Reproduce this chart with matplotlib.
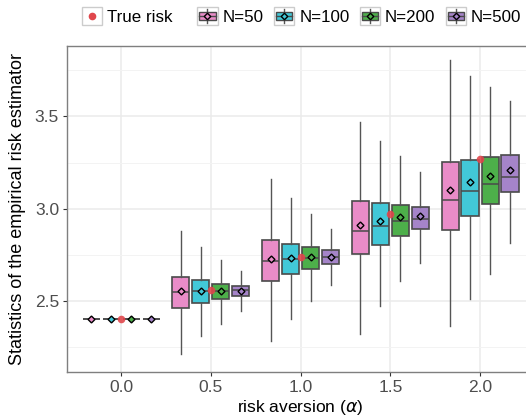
import numpy as np
import matplotlib
matplotlib.use("Agg")
from matplotlib import pyplot as plt
from matplotlib.patches import Rectangle
from matplotlib.lines import Line2D
from matplotlib.legend_handler import HandlerBase

plt.rcParams['font.family'] = ['Liberation Sans', 'DejaVu Sans']

# risk aversion levels and sample sizes
alphas = [0.0, 0.5, 1.0, 1.5, 2.0]
sizes = ['N=50', 'N=100', 'N=200', 'N=500']
true_risk = [2.40, 2.556, 2.740, 2.971, 3.268]

# box statistics per sample size, one entry per alpha:
# (whisker low, q1, median, q3, whisker high, mean)
stats_n50 = [(2.40, 2.40, 2.40, 2.40, 2.40, 2.40),
             (2.212, 2.462, 2.547, 2.629, 2.879, 2.551),
             (2.283, 2.609, 2.716, 2.828, 3.160, 2.725),
             (2.321, 2.752, 2.877, 3.040, 3.471, 2.913),
             (2.366, 2.886, 3.049, 3.254, 3.807, 3.102)]
stats_n100 = [(2.40, 2.40, 2.40, 2.40, 2.40, 2.40),
              (2.307, 2.490, 2.551, 2.611, 2.792, 2.551),
              (2.399, 2.643, 2.725, 2.810, 3.055, 2.732),
              (2.473, 2.805, 2.908, 3.029, 3.368, 2.933),
              (2.508, 2.961, 3.093, 3.265, 3.721, 3.142)]
stats_n200 = [(2.40, 2.40, 2.40, 2.40, 2.40, 2.40),
              (2.376, 2.508, 2.553, 2.593, 2.723, 2.553),
              (2.498, 2.674, 2.732, 2.794, 2.970, 2.738),
              (2.605, 2.850, 2.932, 3.022, 3.283, 2.952),
              (2.647, 3.024, 3.134, 3.278, 3.658, 3.178)]
stats_n500 = [(2.40, 2.40, 2.40, 2.40, 2.40, 2.40),
              (2.444, 2.524, 2.557, 2.580, 2.661, 2.554),
              (2.584, 2.698, 2.738, 2.776, 2.890, 2.738),
              (2.705, 2.888, 2.946, 3.009, 3.196, 2.959),
              (2.814, 3.088, 3.174, 3.289, 3.585, 3.210)]

all_stats = [stats_n50, stats_n100, stats_n200, stats_n500]
colors = ['#E98CC8', '#42C8D8', '#4DAF4A', '#A584C9']
offsets = [-0.167, -0.056, 0.056, 0.167]
box_w = 0.095
edge = '#4A4A4A'

fig = plt.figure(figsize=(5.26, 4.18), dpi=100)
ax = fig.add_axes([0.128, 0.111, 0.887, 0.779])

for stats, col, off in zip(all_stats, colors, offsets):
    bx = []
    for lo, q1, med, q3, hi, mean in stats:
        bx.append(dict(whislo=lo, q1=q1, med=med, q3=q3, whishi=hi, mean=mean, fliers=[]))
    pos = [a + off for a in alphas]
    ax.bxp(bx, positions=pos, widths=box_w, showcaps=False, showmeans=True,
           patch_artist=True, manage_ticks=False,
           boxprops=dict(facecolor=col, edgecolor=edge, linewidth=1.2),
           medianprops=dict(color=edge, linewidth=1.1),
           whiskerprops=dict(color='#555555', linewidth=1.0),
           meanprops=dict(marker='D', markersize=3.5, markerfacecolor=col,
                          markeredgecolor='black', markeredgewidth=1.0),
           zorder=3)

ax.scatter(alphas, true_risk, s=30, color='#E0474C', alpha=0.9, zorder=5, linewidths=0)

ax.set_xlim(-0.3, 2.3)
ax.set_ylim(2.116, 3.882)
ax.set_xticks([0.0, 0.5, 1.0, 1.5, 2.0])
ax.set_xticklabels(['0.0', '0.5', '1.0', '1.5', '2.0'])
ax.set_yticks([2.5, 3.0, 3.5])
ax.set_yticks([2.25, 2.75, 3.25, 3.75], minor=True)
ax.grid(True, which='major', color='#EBEBEB', linewidth=1.1, zorder=0)
ax.grid(True, which='minor', axis='y', color='#F3F3F3', linewidth=0.7, zorder=0)
ax.set_axisbelow(True)
ax.tick_params(axis='both', which='major', labelsize=12.5, labelcolor='#4D4D4D',
               color='#333333', length=3, width=0.8, pad=3)
ax.tick_params(axis='both', which='minor', length=0)
for s in ax.spines.values():
    s.set_color('#7F7F7F')
    s.set_linewidth(1.0)

ax.set_xlabel(r'risk aversion ($\alpha$)', fontsize=12.5, labelpad=2)
ax.set_ylabel('Statistics of the empirical risk estimator', fontsize=13, labelpad=6)


class BoxKey(HandlerBase):
    def __init__(self, color):
        super().__init__()
        self.color = color

    def create_artists(self, legend, orig, xd, yd, w, h, fontsize, trans):
        x0, y0 = -xd, -yd
        bg = Rectangle((x0, y0), w, h, facecolor='white', edgecolor='#CCCCCC',
                       linewidth=1.0, transform=trans)
        cx, cy = x0 + w / 2, y0 + h / 2
        wh = Line2D([cx, cx], [y0 + 1, y0 + h - 1], color='#555555', lw=1.0, transform=trans)
        box = Rectangle((x0 + 0.1 * w, y0 + 0.25 * h), 0.8 * w, 0.5 * h,
                        facecolor=self.color, edgecolor=edge, linewidth=1.0, transform=trans)
        med = Line2D([x0 + 0.1 * w, x0 + 0.9 * w], [cy, cy], color=edge, lw=1.0, transform=trans)
        mk = Line2D([cx], [cy], marker='D', markersize=3.3, markerfacecolor=self.color,
                    markeredgecolor='black', markeredgewidth=1.0, transform=trans)
        return [bg, wh, box, med, mk]


class DotKey(HandlerBase):
    def create_artists(self, legend, orig, xd, yd, w, h, fontsize, trans):
        x0, y0 = -xd, -yd
        bg = Rectangle((x0, y0), w, h, facecolor='white', edgecolor='#CCCCCC',
                       linewidth=1.0, transform=trans)
        dot = Line2D([x0 + w / 2], [y0 + h / 2], marker='o', markersize=5.5, linestyle='',
                     markerfacecolor='#E0474C', markeredgewidth=0, transform=trans)
        return [bg, dot]


dot_handle = Line2D([], [])
fig.legend([dot_handle], ['True risk'], handler_map={dot_handle: DotKey()},
           loc='center left', bbox_to_anchor=(0.156, 0.962), frameon=False,
           fontsize=12.2, handlelength=1.2, handleheight=1.2, handletextpad=0.3,
           borderpad=0, borderaxespad=0)

box_handles = [Rectangle((0, 0), 1, 1) for _ in sizes]
fig.legend(box_handles, sizes,
           handler_map={h: BoxKey(c) for h, c in zip(box_handles, colors)},
           loc='center left', bbox_to_anchor=(0.375, 0.962), frameon=False, ncol=4,
           fontsize=12.2, handlelength=1.2, handleheight=1.2, handletextpad=0.3,
           columnspacing=0.6, borderpad=0, borderaxespad=0)

plt.savefig('out.png', dpi=100)
